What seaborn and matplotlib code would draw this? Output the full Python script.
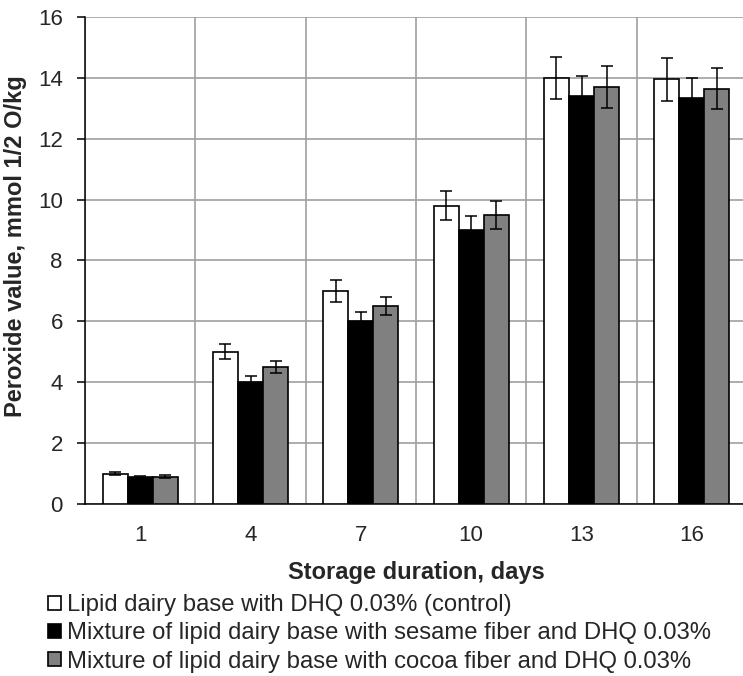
import numpy as np
import pandas as pd
import matplotlib
matplotlib.use("Agg")
import matplotlib.pyplot as plt
from matplotlib.patches import Patch
import seaborn as sns

days = ["1", "4", "7", "10", "13", "16"]
series = ["Lipid dairy base with DHQ 0.03% (control)",
          "Mixture of lipid dairy base with sesame fiber and DHQ 0.03%",
          "Mixture of lipid dairy base with cocoa fiber and DHQ 0.03%"]
control = [1.0, 5.0, 7.0, 9.8, 14.0, 13.95]
sesame = [0.9, 4.0, 6.0, 9.0, 13.4, 13.35]
cocoa = [0.9, 4.5, 6.5, 9.5, 13.7, 13.65]
err_control = [0.06, 0.25, 0.35, 0.48, 0.7, 0.7]
err_sesame = [0.03, 0.2, 0.3, 0.45, 0.66, 0.64]
err_cocoa = [0.05, 0.2, 0.3, 0.45, 0.69, 0.68]
colors = ["white", "black", "#808080"]

# LONG FORMAT
df = pd.DataFrame({
    "day": days * 3,
    "series": [series[0]] * 6 + [series[1]] * 6 + [series[2]] * 6,
    "value": control + sesame + cocoa,
    "err": err_control + err_sesame + err_cocoa,
})

sns.set_style("white")
plt.rcParams["font.family"] = ["Liberation Sans", "DejaVu Sans"]

fig = plt.figure(figsize=(7.43, 6.76), dpi=100)
# plot area runs a little past the right edge, like the original crop
ax = fig.add_axes([0.1144, 0.2544, 0.891, 0.7205])

sns.barplot(data=df, x="day", y="value", hue="series", order=days,
            hue_order=series, palette=colors, width=0.68, errorbar=None,
            edgecolor="black", linewidth=1.2, legend=False, ax=ax, zorder=3)

# error bars on top of the seaborn bars
bars = [p for p in ax.patches]
for i, s in enumerate(series):
    sub = df[df.series == s].set_index("day").loc[days]
    for j, d in enumerate(days):
        p = bars[i * len(days) + j]
        xc = p.get_x() + p.get_width() / 2
        ax.errorbar(xc, sub.value[d], yerr=sub.err[d], fmt="none",
                    ecolor="black", elinewidth=1.1, capsize=4.5, capthick=1.1, zorder=4)

ax.set_ylim(0, 16)
ax.set_xlim(-0.5, 5.5)
ax.set_yticks(np.arange(0, 17, 2))
ax.set_xticks(np.arange(-0.5, 6, 1), minor=True)
ax.grid(True, axis="y", color="#a0a0a0", linewidth=1.2, zorder=0)
ax.grid(True, axis="x", which="minor", color="#a0a0a0", linewidth=1.2, zorder=0)
ax.grid(False, axis="x", which="major")
ax.set_axisbelow(True)
for sp in ["top", "right"]:
    ax.spines[sp].set_visible(False)
for sp in ["left", "bottom"]:
    ax.spines[sp].set_color("black")
    ax.spines[sp].set_linewidth(1.1)
ax.tick_params(axis="x", which="major", length=0, labelsize=16, pad=15)
ax.tick_params(axis="x", which="minor", length=6, width=1.1, color="black", direction="out")
ax.tick_params(axis="y", length=6, width=1.1, color="black", direction="out",
               labelsize=16, pad=10, left=True)

ax.set_xlabel("Storage duration, days", fontsize=17, fontweight="bold", labelpad=11)
ax.set_ylabel("Peroxide value, mmol 1/2 O/kg", fontsize=17, fontweight="bold")
ax.yaxis.set_label_coords(-0.088, 0.53)

handles = [Patch(facecolor=c, edgecolor="black", linewidth=1.2) for c in colors]
fig.legend(handles, series, loc="upper left", bbox_to_anchor=(0.064, 0.121),
           frameon=False, fontsize=17.2, handlelength=0.55, handleheight=0.55,
           handletextpad=0.25, labelspacing=0.26, borderaxespad=0, borderpad=0)

fig.savefig("out.png", dpi=100)
